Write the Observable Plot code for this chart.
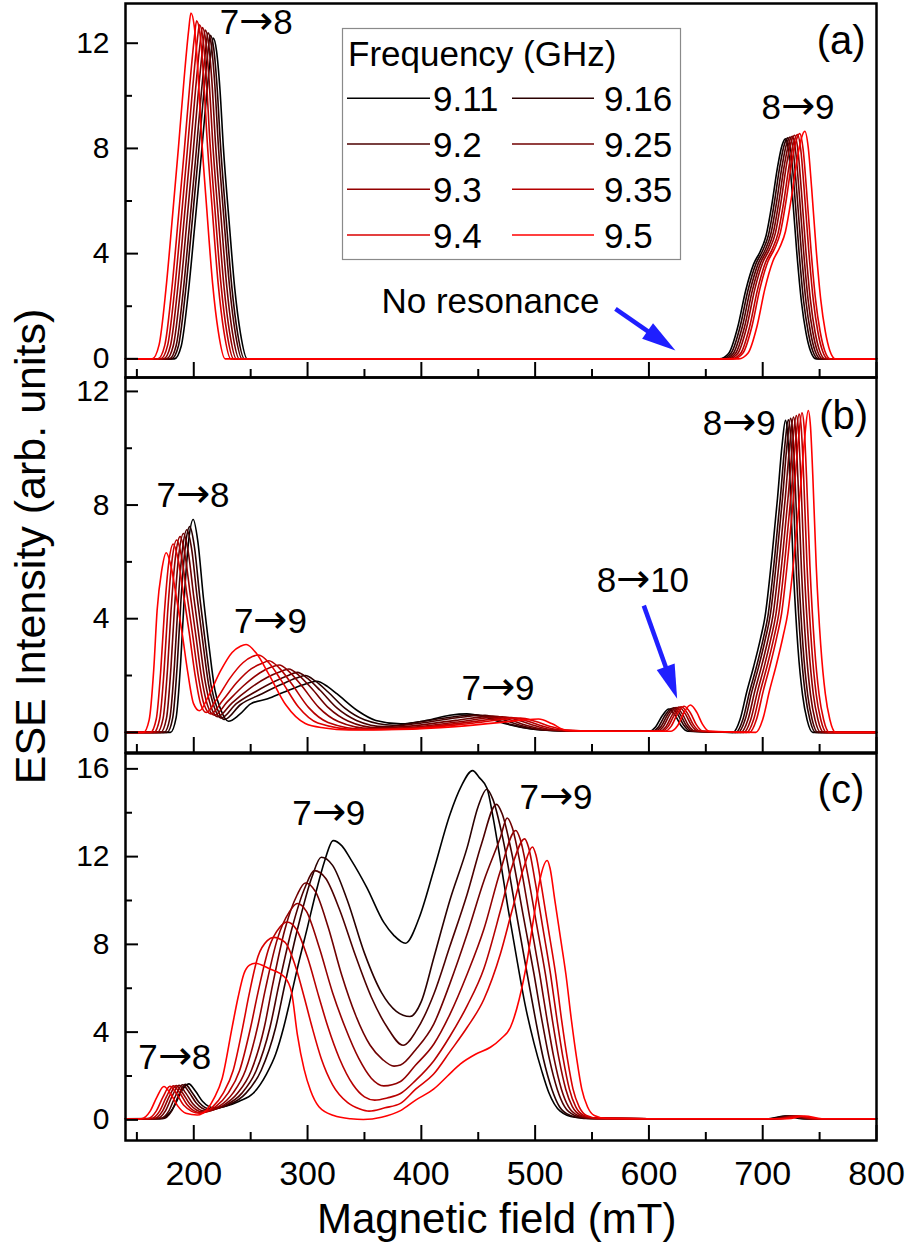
<!DOCTYPE html>
<html><head><meta charset="utf-8">
<script src="https://cdn.jsdelivr.net/npm/d3@7"></script>
<script src="https://cdn.jsdelivr.net/npm/@observablehq/plot@0.6"></script>
<style>
@font-face{font-family:"ArrowSub";src:local("DejaVu Sans"),local("DejaVuSans");unicode-range:U+2192;size-adjust:118%;}
body{margin:0;background:#fff;}
#wrap{position:relative;width:910px;height:1245px;font-family:"Liberation Sans",Arial,sans-serif;overflow:hidden;}
#wrap svg{position:absolute;left:0;}
</style></head>
<body><div id="wrap"></div>
<script>
// ---------- categories ----------
const freqs = [9.11, 9.16, 9.2, 9.25, 9.3, 9.35, 9.4, 9.5];
const colors = ["#000000","#2a0000","#4d0000","#700000","#930000","#b60000","#da0000","#ff0000"];
const xMajor = [200,300,400,500,600,700,800];
const xMinor = [150,250,350,450,550,650,750];

// ---------- panel (a) series : [field mT, intensity] ----------
const A911 = [[140,0],[183,0],[189,.49],[195,2.44],[201,5.12],[206,7.44],[211,9.88],[215,11.59],[217,12.2],[220,11.71],[223,10.25],[226,8.05],[231,5.25],[236,2.68],[241,.98],[247,0],[662,0],[670,.2],[678,1.2],[685,2.59],[692,3.6],[698,4.1],[703,4.69],[708,5.86],[713,7.28],[717,8.12],[720,8.37],[723,7.78],[726,6.28],[730,4.02],[734,2.18],[738,1.0],[742,.3],[747,0],[800,0]];
const A916 = [[140,0],[180.5,0],[186.5,.49],[192.5,2.46],[198.5,5.17],[203.5,7.5],[208.5,9.96],[212.5,11.69],[214.5,12.3],[217.5,11.81],[220.5,10.33],[223.5,8.12],[228.5,5.29],[233.5,2.71],[238.5,.98],[244.5,0],[664,0],[672,.2],[680,1.2],[687,2.6],[694,3.61],[700,4.12],[705,4.7],[710,5.88],[715,7.31],[719,8.15],[722,8.4],[725,7.81],[728,6.3],[732,4.03],[736,2.18],[740,1.01],[744,.3],[749,0],[800,0]];
const A920 = [[140,0],[178.5,0],[184.5,.5],[190.5,2.48],[196.5,5.21],[201.5,7.56],[206.5,10.04],[210.5,11.78],[212.5,12.4],[215.5,11.9],[218.5,10.42],[221.5,8.18],[226.5,5.33],[231.5,2.73],[236.5,.99],[242.5,0],[666,0],[674,.2],[682,1.21],[689,2.61],[696,3.62],[702,4.13],[707,4.72],[712,5.9],[717,7.33],[721,8.18],[724,8.43],[727,7.84],[730,6.32],[734,4.05],[738,2.19],[742,1.01],[746,.3],[751,0],[800,0]];
const A925 = [[140,0],[176,0],[182,.5],[188,2.5],[194,5.25],[199,7.63],[204,10.13],[208,11.88],[210,12.5],[213,12],[216,10.5],[219,8.25],[224,5.38],[229,2.75],[234,1],[240,0],[668,0],[676,.2],[684,1.21],[691,2.62],[698,3.64],[704,4.15],[709,4.74],[714,5.92],[719,7.36],[723,8.21],[726,8.46],[729,7.87],[732,6.35],[736,4.06],[740,2.2],[744,1.02],[748,.3],[753,0],[800,0]];
const A930 = [[140,0],[173.5,0],[179.5,.5],[185.5,2.52],[191.5,5.29],[196.5,7.69],[201.5,10.21],[205.5,11.97],[207.5,12.6],[210.5,12.1],[213.5,10.58],[216.5,8.32],[221.5,5.42],[226.5,2.77],[231.5,1.01],[237.5,0],[670,0],[678,.2],[686,1.22],[693,2.64],[700,3.66],[706,4.17],[711,4.76],[716,5.95],[721,7.4],[725,8.25],[728,8.5],[731,7.91],[734,6.38],[738,4.08],[742,2.21],[746,1.02],[750,.31],[755,0],[800,0]];
const A935 = [[140,0],[171,0],[177,.51],[183,2.54],[189,5.33],[194,7.75],[199,10.29],[203,12.07],[205,12.7],[208,12.19],[211,10.67],[214,8.38],[219,5.46],[224,2.79],[229,1.02],[235,0],[672.5,0],[680.5,.2],[688.5,1.22],[695.5,2.64],[702.5,3.67],[708.5,4.18],[713.5,4.78],[718.5,5.97],[723.5,7.42],[727.5,8.27],[730.5,8.53],[733.5,7.93],[736.5,6.4],[740.5,4.09],[744.5,2.22],[748.5,1.02],[752.5,.31],[757.5,0],[800,0]];
const A940 = [[140,0],[168.5,0],[174.5,.51],[180.5,2.57],[186.5,5.4],[191.5,7.84],[196.5,10.41],[200.5,12.21],[202.5,12.85],[205.5,12.34],[208.5,10.79],[211.5,8.48],[216.5,5.53],[221.5,2.83],[226.5,1.03],[232.5,0],[674.5,0],[682.5,.21],[690.5,1.23],[697.5,2.66],[704.5,3.69],[710.5,4.2],[715.5,4.8],[720.5,6],[725.5,7.46],[729.5,8.31],[732.5,8.57],[735.5,7.97],[738.5,6.43],[742.5,4.11],[746.5,2.23],[750.5,1.03],[754.5,.31],[759.5,0],[800,0]];
const A950 = [[140,0],[163.5,0],[169.5,.53],[175.5,2.63],[181.5,5.52],[186.5,8.02],[191.5,10.65],[195.5,12.49],[197.5,13.15],[200.5,12.62],[203.5,11.05],[206.5,8.68],[211.5,5.65],[216.5,2.89],[221.5,1.05],[227.5,0],[679,0],[687,.21],[695,1.24],[702,2.68],[709,3.72],[715,4.24],[720,4.84],[725,6.06],[730,7.53],[734,8.39],[737,8.65],[740,8.04],[743,6.49],[747,4.15],[751,2.25],[755,1.04],[759,.31],[764,0],[800,0]];

// ---------- panel (b) series ----------
const B911 = [[140,0],[179.5,0],[184.5,.52],[188.5,2.47],[191.5,4.64],[195.5,6.74],[199.5,7.49],[203.5,6.74],[208.5,4.72],[213.5,3.0],[218.5,1.5],[223.5,.82],[230.5,.39],[240,.62],[250,1.0],[265,1.18],[279,1.41],[295,1.66],[308,1.8],[318,1.6],[326,1.35],[344,.76],[360,.42],[382,.3],[405,.42],[425,.6],[440,.65],[455,.55],[474,.3],[495,.13],[520,.06],[560,.04],[600.5,.04],[606,.2],[612,.6],[617.5,.82],[623,.6],[628,.25],[634,.04],[674,0],[680,.44],[686,1.43],[692,2.31],[698,3.29],[702,4.06],[708,6.15],[713,8.24],[717,10.1],[720,10.98],[722,10.43],[724,8.78],[727,5.71],[731,2.96],[735,1.32],[739,.44],[744,0],[800,0]];
const B916 = [[140,0],[176.5,0],[181.5,.51],[185.5,2.39],[188.5,4.49],[192.5,6.52],[196.5,7.24],[200.5,6.55],[205.5,4.68],[210.5,3.05],[215.5,1.59],[220.5,.85],[227,.45],[241.2,.98],[259,1.34],[276.7,1.68],[289.5,1.9],[298,2.0],[307,1.8],[318,1.42],[333,.84],[350,.44],[375,.25],[400,.38],[425,.53],[448,.62],[462,.5],[478,.28],[498,.12],[525,.05],[560,.04],[603,.04],[608.5,.2],[614.5,.62],[620,.84],[625.5,.62],[630.5,.26],[636.5,.04],[676.5,0],[682.5,.44],[688.5,1.43],[694.5,2.31],[700.5,3.3],[704.5,4.07],[710.5,6.16],[715.5,8.25],[719.5,10.12],[722.5,11.0],[724.5,10.45],[726.5,8.8],[729.5,5.72],[733.5,2.97],[737.5,1.32],[741.5,.44],[746.5,0],[800,0]];
const B920 = [[140,0],[174,0],[179,.5],[183,2.35],[186,4.42],[190,6.42],[194,7.13],[198,6.48],[203,4.73],[208,3.16],[213,1.69],[218,.88],[224,.5],[237.4,1.01],[254.2,1.43],[270.9,1.79],[283,2.0],[291,2.11],[300,1.9],[311,1.48],[326,.85],[343,.42],[368,.2],[395,.3],[425,.48],[456,.6],[470,.47],[486,.26],[505,.1],[530,.05],[560,.04],[605,.04],[610.5,.2],[616.5,.63],[622,.86],[627.5,.63],[632.5,.26],[638.5,.04],[678.5,0],[684.5,.44],[690.5,1.44],[696.5,2.32],[702.5,3.32],[706.5,4.09],[712.5,6.19],[717.5,8.29],[721.5,10.17],[724.5,11.05],[726.5,10.5],[728.5,8.84],[731.5,5.75],[735.5,2.98],[739.5,1.33],[743.5,.44],[748.5,0],[800,0]];
const B925 = [[140,0],[171,0],[176,.49],[180,2.31],[183,4.34],[187,6.3],[191,7.0],[195,6.39],[200,4.77],[205,3.25],[210,1.79],[215,.92],[221,.55],[233.5,1.03],[249.1,1.54],[264.8,1.94],[276.5,2.14],[283.5,2.23],[292.5,2.0],[303.5,1.55],[318.5,.86],[335.5,.4],[362,.16],[390,.22],[430,.42],[463,.57],[477,.45],[492,.25],[510,.09],[535,.05],[560,.04],[607,.04],[612.5,.2],[618.5,.64],[624,.87],[629.5,.64],[634.5,.26],[640.5,.04],[681,0],[687,.44],[693,1.44],[699,2.33],[705,3.33],[709,4.11],[715,6.22],[720,8.33],[724,10.21],[727,11.1],[729,10.55],[731,8.88],[734,5.77],[738,3.0],[742,1.33],[746,.44],[751,0],[800,0]];
const B930 = [[140,0],[168,0],[173,.48],[177,2.27],[180,4.27],[184,6.2],[188,6.89],[192,6.32],[197,4.82],[202,3.35],[207,1.89],[212,.96],[218,.6],[229.4,1.07],[243.7,1.64],[257.9,2.09],[268.2,2.3],[275,2.37],[284,2.13],[295,1.63],[310,.87],[327,.38],[356,.13],[385,.16],[435,.38],[471,.55],[485,.43],[500,.23],[517,.08],[540,.05],[560,.04],[609.5,.04],[615,.2],[621,.65],[626.5,.89],[632,.65],[637,.27],[643,.04],[683.5,0],[689.5,.45],[695.5,1.45],[701.5,2.34],[707.5,3.35],[711.5,4.13],[717.5,6.24],[722.5,8.36],[726.5,10.26],[729.5,11.15],[731.5,10.59],[733.5,8.92],[736.5,5.8],[740.5,3.01],[744.5,1.34],[748.5,.45],[753.5,0],[800,0]];
const B935 = [[140,0],[165,0],[170,.47],[174,2.23],[177,4.2],[181,6.09],[185,6.77],[189,6.24],[194,4.85],[199,3.43],[204,1.98],[209,.99],[215,.65],[225.2,1.11],[238,1.76],[250.7,2.24],[260.9,2.44],[266,2.52],[275,2.27],[286,1.71],[301,.87],[318,.35],[350,.11],[385,.13],[440,.35],[479,.52],[492,.41],[507,.21],[524,.07],[545,.05],[560,.04],[611.5,.04],[617,.21],[623,.66],[628.5,.9],[634,.66],[639,.27],[645,.04],[686,0],[692,.45],[698,1.46],[704,2.35],[710,3.36],[714,4.14],[720,6.27],[725,8.4],[729,10.3],[732,11.2],[734,10.64],[736,8.96],[739,5.82],[743,3.02],[747,1.34],[751,.45],[756,0],[800,0]];
const B940 = [[140,0],[162,0],[167,.46],[171,2.19],[174,4.11],[178,5.97],[182,6.63],[186,6.14],[191,4.86],[196,3.51],[201,2.06],[206,1.01],[211,.7],[220.2,1.17],[231.7,1.9],[243.2,2.45],[251.5,2.67],[257,2.72],[266,2.45],[277,1.82],[292,.89],[309,.33],[344,.1],[385,.12],[445,.32],[487,.5],[500,.39],[514,.2],[530,.07],[550,.05],[570,.04],[614,.04],[619.5,.21],[625.5,.68],[631,.92],[636.5,.68],[641.5,.28],[647.5,.04],[688.5,0],[694.5,.45],[700.5,1.46],[706.5,2.36],[712.5,3.38],[716.5,4.16],[722.5,6.3],[727.5,8.44],[731.5,10.35],[734.5,11.25],[736.5,10.69],[738.5,9.0],[741.5,5.85],[745.5,3.04],[749.5,1.35],[753.5,.45],[758.5,0],[800,0]];
const B950 = [[140,0],[155.8,0],[160.8,.44],[164.8,2.2],[167.8,4.3],[171.8,5.69],[175.8,6.32],[179.8,5.88],[184.8,4.74],[189.8,3.48],[194.8,2.09],[199.8,1.01],[205,.76],[213.2,1.3],[223.5,2.16],[233.7,2.81],[241,3.03],[246,3.09],[255,2.78],[266,2.04],[281,.96],[298,.31],[315,.15],[336,.08],[380,.1],[430,.2],[470,.35],[490,.44],[503,.47],[515,.3],[527,.07],[560,.04],[619.5,.04],[625,.22],[631,.71],[636.5,.96],[642,.71],[647,.29],[653,.04],[694,0],[700,.45],[706,1.47],[712,2.38],[718,3.4],[722,4.19],[728,6.34],[733,8.5],[737,10.42],[740,11.33],[742,10.76],[744,9.06],[747,5.89],[751,3.06],[755,1.36],[759,.45],[764,0],[800,0]];

// ---------- panel (c) series ----------
const C911 = [[140,.05],[170,.06],[177.6,.25],[183.6,.7],[189.6,1.35],[195.6,1.64],[201.6,1.3],[207.6,.85],[218,.55],[228,.62],[240,.85],[252,1.2],[264,2.1],[272,3.0],[279,4.22],[284,5.3],[291,6.9],[300,8.8],[308,10.5],[315,11.8],[322.5,12.73],[330,12.5],[337.7,11.9],[352,10.6],[367,9.0],[376,8.4],[386,8.05],[398,9.2],[411,11.4],[425,13.9],[435,15.2],[445,15.92],[451,15.6],[457.8,15.1],[463,13.8],[469.5,11.8],[476,9.7],[484,7.3],[491,5.3],[499,3.5],[506,2.2],[512,1.25],[522,.4],[535,.12],[550,.07],[600,.05],[705,.05],[720,.18],[735,.05],[800,.05]];
const C916 = [[140,.05],[172.5,.05],[180.5,.4],[186.5,1.1],[192.5,1.62],[198.5,1.25],[204.5,.8],[214,.5],[231.4,.7],[245.9,1.22],[259.2,2.25],[272,4.22],[280,6.16],[292,8.87],[304,11.09],[312,11.97],[322,11.6],[335,10.0],[350,7.6],[365,5.8],[378,4.95],[390,4.71],[400,5.4],[411,7.4],[425,10.0],[440.3,12.42],[450,14.3],[457.5,15.07],[462.8,14.62],[471.7,12.81],[482.4,9.73],[493,6.65],[500.6,4.5],[507.2,2.8],[514.7,1.4],[521.4,.6],[530.9,.2],[542.6,.07],[600,.05],[707,.05],[722,.18],[737,.05],[800,.05]];
const C920 = [[140,.05],[170,.05],[178,.4],[184,1.1],[190,1.6],[196,1.25],[202,.78],[212,.45],[228.5,.68],[242.3,1.22],[254.9,2.25],[267,4.22],[274.8,6.15],[286.5,8.77],[298.2,10.65],[306,11.36],[316,11.0],[328,9.6],[342,7.5],[356,5.6],[370,4.22],[384,3.4],[396,4.1],[411,5.74],[425,7.9],[440.3,10.3],[453,12.6],[466,14.38],[471,13.95],[479.2,12.22],[489.1,9.44],[499,6.65],[506.1,4.5],[512.4,2.8],[519.4,1.4],[525.9,.6],[534.7,.2],[546.1,.07],[600,.05],[709,.05],[724,.18],[739,.05],[800,.05]];
const C925 = [[140,.05],[167,.05],[175,.4],[181,1.08],[187,1.58],[193,1.22],[199,.75],[210,.4],[225.6,.65],[238.6,1.22],[250.6,2.25],[262,4.22],[269.2,6.13],[280,8.67],[290.8,10.25],[298,10.8],[307,10.4],[318,8.8],[330,6.6],[342,4.8],[355,3.4],[366,2.75],[376,2.45],[381.7,2.5],[395,3.2],[411,4.38],[425,6.2],[440.3,8.48],[455,10.9],[469.5,12.88],[475.4,13.76],[479.7,13.35],[486.8,11.7],[495.4,9.17],[504,6.65],[510.7,4.5],[516.6,2.8],[523.1,1.4],[529.3,.6],[537.6,.2],[548.7,.07],[600,.05],[711,.05],[726,.18],[741,.05],[800,.05]];
const C930 = [[140,.05],[164.5,.05],[172.5,.4],[178.5,1.07],[184.5,1.56],[190.5,1.2],[196.5,.72],[208,.36],[222.4,.62],[234.4,1.22],[245.4,2.25],[256,4.22],[263,5.97],[273.5,8.25],[284,9.48],[291,9.86],[299,9.5],[310,7.9],[322,5.8],[333,4.22],[345,2.8],[356,1.9],[367,1.55],[381.7,1.75],[395,2.5],[411,3.46],[425,4.8],[440.3,6.65],[455,8.7],[469.5,11.36],[483,13.19],[486.9,12.79],[493.4,11.21],[501.2,8.93],[509,6.65],[515.3,4.5],[520.9,2.8],[526.9,1.4],[532.7,.6],[540.4,.2],[551.3,.07],[600,.05],[713,.05],[728,.18],[743,.05],[800,.05]];
const C935 = [[140,.05],[162,.05],[170,.4],[176,1.06],[182,1.55],[188,1.2],[194,.7],[206,.32],[219.2,.6],[230.2,1.22],[240.3,2.25],[250,4.22],[256.4,5.8],[266,7.83],[275.6,8.78],[282,9.02],[290,8.7],[300,7.4],[310,5.6],[318,4.22],[328,2.8],[340,1.6],[350,1.05],[359,.9],[370,1.0],[381.7,1.2],[395,1.8],[411,2.7],[425,3.8],[440.3,5.21],[455,6.9],[469.5,9.54],[480,11.6],[490.8,12.81],[494.2,12.43],[499.9,10.89],[506.7,8.77],[513.5,6.65],[519.4,4.5],[524.6,2.8],[530.1,1.4],[535.6,.6],[542.8,.2],[553.4,.07],[600,.05],[715,.05],[730,.18],[745,.05],[800,.05]];
const C940 = [[140,.05],[159,.05],[167,.4],[173,1.05],[179,1.53],[185,1.18],[191,.68],[205,.3],[216.4,.58],[225.9,1.22],[234.6,2.25],[243,4.22],[248.4,5.66],[256.5,7.46],[264.6,8.17],[270,8.32],[280,8.1],[290,6.9],[297,5.6],[304,4.22],[312,2.8],[322,1.6],[335,.8],[346,.5],[354,.4],[368,.55],[381.7,.75],[395,1.4],[411,2.1],[425,3.1],[440.3,4.22],[455,5.5],[469.5,7.57],[480,9.6],[490,11.5],[497.7,12.44],[500.7,12.07],[505.8,10.57],[511.9,8.61],[518,6.65],[523.4,4.5],[528.3,2.8],[533.3,1.4],[538.6,.6],[545.1,.2],[555.4,.07],[600,.05],[717,.05],[732,.18],[747,.05],[800,.05]];
const C950 = [[140,.05],[153.7,.05],[161.7,.4],[167.7,1.05],[173.7,1.52],[179.7,1.18],[185.7,.65],[193,.3],[203,.22],[212,.5],[218,1.0],[225,1.9],[233.7,4.22],[239,5.6],[244,6.65],[249,7.05],[254,7.14],[266,6.9],[280,6.5],[286,5.8],[291,3.9],[297,2.3],[302.6,1.34],[310,.6],[323,.2],[338,.05],[349,.02],[365,.12],[381.7,.42],[395,.9],[411,1.41],[423,2.0],[434.4,2.55],[448,3.0],[460.7,3.31],[470,3.7],[478.3,4.22],[486,5.5],[493,7.26],[499,9.3],[504.7,11.06],[510.6,11.82],[513.1,11.47],[517.2,10.05],[522.1,8.35],[527,6.65],[532,4.5],[536.5,2.8],[541,1.4],[546,.6],[552,.2],[562,.07],[600,.05],[722,.05],[737,.18],[752,.05],[800,.05]];

const panelA = [A911, A916, A920, A925, A930, A935, A940, A950];
const panelB = [B911, B916, B920, B925, B930, B935, B940, B950];
const panelC = [C911, C916, C920, C925, C930, C935, C940, C950];

// ---------- annotations (data coordinates) ----------
const labelsA = [{text:"7→8", x:254.9, y:12.77}, {text:"8→9", x:731, y:9.54}, {text:"No resonance", x:460.7, y:2.16}];
const labelsB = [{text:"8→9", x:679.4, y:10.86}, {text:"7→8", x:199.3, y:8.31}, {text:"7→9", x:267.4, y:3.9}, {text:"7→9", x:467.3, y:1.53}, {text:"8→10", x:594.7, y:5.34}];
const labelsC = [{text:"7→9", x:318.7, y:13.95}, {text:"7→9", x:518.3, y:14.67}, {text:"7→8", x:183.2, y:2.85}];
const tagA = [{text:"(a)", x:768.9, y:12.06}];
const tagB = [{text:"(b)", x:771.2, y:11.13}];
const tagC = [{text:"(c)", x:768.7, y:15.01}];
const arrowA = [{x1:570.6, y1:1.9, x2:623.3, y2:0.32}];
const arrowB = [{x1:595.5, y1:4.46, x2:624.8, y2:1.18}];

// ---------- drawing ----------
const FONT = '"Liberation Sans", Arial, sans-serif';
const LFONT = '"ArrowSub", "Liberation Sans", Arial, sans-serif';
const BLUE = "#1f1fff";
const W = 910, ML = 125, MR = 34;
const plotW = W - ML - MR;

function headSymbol(angleDeg, L, w) {
  const t = angleDeg * Math.PI / 180;
  const ux = Math.sin(t), uy = -Math.cos(t);
  const px = Math.cos(t), py = Math.sin(t);
  return {draw(ctx) {
    ctx.moveTo(0, 0);
    ctx.lineTo(-L*ux + w/2*px, -L*uy + w/2*py);
    ctx.lineTo(-L*ux - w/2*px, -L*uy - w/2*py);
    ctx.closePath();
  }};
}

function rows(panel) {
  return panel.flatMap((pts, i) => pts.map(([x, y]) => ({freq: freqs[i], x, y})));
}

function makePanel({data, yDomain, yMajor, yMinor, height, mTop, mBottom, labels, tag, arrow, angle, frac, xAxis}) {
  const plotH = height - mTop - mBottom;
  const marks = [
    Plot.line(rows(data), {x: "x", y: "y", z: "freq", stroke: "freq", strokeWidth: 1.6, curve: "monotone-x"}),
    Plot.ruleY(yMajor, {strokeWidth: 2, insetRight: plotW - 13}),
    Plot.ruleY(yMinor, {strokeWidth: 2, insetRight: plotW - 7}),
    Plot.ruleX(xMajor, {strokeWidth: 2, insetTop: plotH - 15}),
    Plot.ruleX(xMinor, {strokeWidth: 2, insetTop: plotH - 8}),
    Plot.axisY({ticks: yMajor, tickSize: 0, tickPadding: 16, fontSize: 30, label: null}),
    Plot.frame({strokeWidth: 2.5}),
    Plot.text(labels, {x: "x", y: "y", text: "text", fontSize: 35, lineAnchor: "middle", fontFamily: LFONT}),
    Plot.text(tag, {x: "x", y: "y", text: "text", fontSize: 40, lineAnchor: "middle"})
  ];
  if (arrow) {
    const a = arrow.map(d => ({...d, xs: d.x1 + frac*(d.x2 - d.x1), ys: d.y1 + frac*(d.y2 - d.y1)}));
    marks.push(Plot.link(a, {x1: "x1", y1: "y1", x2: "xs", y2: "ys", stroke: BLUE, strokeWidth: 4.5}));
    marks.push(Plot.dot(a, {x: "x2", y: "y2", r: 10, symbol: headSymbol(angle, 34, 19), fill: BLUE, stroke: "none"}));
  }
  if (xAxis) marks.push(Plot.axisX({ticks: xMajor, tickSize: 0, tickPadding: 20, fontSize: 34, label: null}));
  return Plot.plot({
    width: W, height, marginLeft: ML, marginRight: MR, marginTop: mTop, marginBottom: mBottom,
    x: {domain: [140, 800], axis: xAxis ? undefined : null},
    y: {domain: yDomain},
    color: {type: "ordinal", domain: freqs, range: colors},
    style: {fontFamily: FONT, fontSize: "30px", background: "none", overflow: "visible", color: "black"},
    marks
  });
}

const wrap = document.getElementById("wrap");
const pa = makePanel({data: panelA, yDomain: [-0.71, 13.51], yMajor: [0,4,8,12], yMinor: [2,6,10], height: 380, mTop: 3, mBottom: 3, labels: labelsA, tag: tagA, arrow: arrowA, angle: 125, frac: 0.68});
pa.style.top = "0px";
const pb = makePanel({data: panelB, yDomain: [-0.71, 12.49], yMajor: [0,4,8,12], yMinor: [2,6,10], height: 381, mTop: 3, mBottom: 3, labels: labelsB, tag: tagB, arrow: arrowB, angle: 160.3, frac: 0.76});
pb.style.top = "374px";
const pc = makePanel({data: panelC, yDomain: [-0.94, 16.7], yMajor: [0,4,8,12,16], yMinor: [2,6,10,14], height: 495, mTop: 3, mBottom: 105, labels: labelsC, tag: tagC, xAxis: true});
pc.style.top = "750px";
wrap.append(pa, pb, pc);

// ---------- legend and axis titles ----------
const ov = d3.select(wrap).append("svg").attr("width", W).attr("height", 1245).style("top", "0px")
  .style("font-family", FONT).style("pointer-events", "none");
ov.append("rect").attr("x", 342.5).attr("y", 28.5).attr("width", 338).attr("height", 231)
  .attr("fill", "white").attr("stroke", "#8a8a8a").attr("stroke-width", 1.2);
ov.append("text").attr("x", 348).attr("y", 66).attr("font-size", 35).text("Frequency (GHz)");
const rowY = [98.3, 144, 189.3, 235];
freqs.forEach((f, i) => {
  const row = Math.floor(i / 2), col = i % 2;
  const y = rowY[row];
  const x1 = col === 0 ? 347 : 512, x2 = col === 0 ? 430 : 594, tx = col === 0 ? 433 : 604;
  ov.append("line").attr("x1", x1).attr("x2", x2).attr("y1", y).attr("y2", y).attr("stroke", colors[i]).attr("stroke-width", 1.6);
  ov.append("text").attr("x", tx).attr("y", y + 12.5).attr("font-size", 35).text(String(f));
});
ov.append("text").attr("x", 496.7).attr("y", 1233).attr("text-anchor", "middle").attr("font-size", 42).text("Magnetic field (mT)");
ov.append("text").attr("transform", "translate(45,546.5) rotate(-90)").attr("text-anchor", "middle").attr("font-size", 43).text("ESE Intensity (arb. units)");
</script>
</body></html>
